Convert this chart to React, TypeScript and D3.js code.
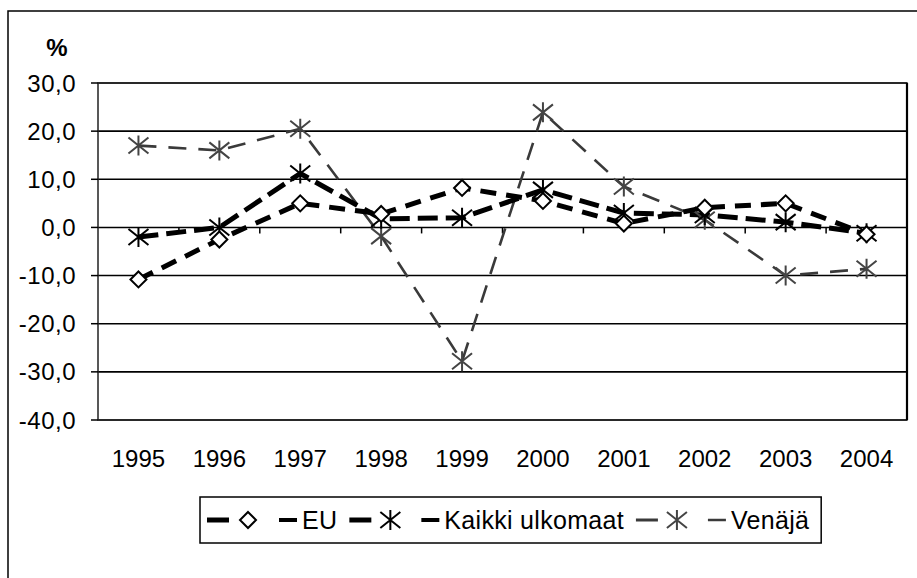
import React, { useEffect, useRef } from "react";
import * as d3 from "d3";

const years = ["1995", "1996", "1997", "1998", "1999", "2000", "2001", "2002", "2003", "2004"];
const euValues = [-10.8, -2.5, 5.0, 2.8, 8.2, 5.5, 0.8, 4.1, 5.0, -1.4];
const kaikkiValues = [-2.0, 0.0, 11.2, 1.8, 2.0, 7.8, 3.0, 2.6, 1.1, -1.2];
const venajaValues = [17.0, 16.0, 20.5, -1.8, -27.8, 23.9, 8.5, 1.6, -10.0, -8.6];
const yTicks = [30, 20, 10, 0, -10, -20, -30, -40];
const seriesNames = ["EU", "Kaikki ulkomaat", "Venäjä"];

const W = 917;
const H = 578;
const FONT = "'Liberation Sans', Arial, sans-serif";

type Style = { color: string; width: number; dash: string; marker: "diamond" | "star"; mColor: string };
const styles: Style[] = [
  { color: "#000", width: 5, dash: "16 10", marker: "diamond", mColor: "#000" },
  { color: "#000", width: 5, dash: "20 8", marker: "star", mColor: "#000" },
  { color: "#3a3a3a", width: 2.6, dash: "18 12", marker: "star", mColor: "#444" },
];

function drawMarker(g: any, kind: string, cx: number, cy: number, color: string) {
  if (kind === "diamond") {
    const r = 8;
    g.append("path")
      .attr("d", `M${cx},${cy - r}L${cx + r},${cy}L${cx},${cy + r}L${cx - r},${cy}Z`)
      .attr("fill", "#fff")
      .attr("stroke", color)
      .attr("stroke-width", 2);
  } else {
    const r = 10;
    g.append("path")
      .attr(
        "d",
        `M${cx - r},${cy - r * 0.8}L${cx + r},${cy + r * 0.8}M${cx - r},${cy + r * 0.8}L${cx + r},${cy - r * 0.8}M${cx},${cy - r}L${cx},${cy + r}`
      )
      .attr("fill", "none")
      .attr("stroke", color)
      .attr("stroke-width", 2);
  }
}

export default function App() {
  const ref = useRef<SVGSVGElement>(null);

  useEffect(() => {
    const svg = d3.select(ref.current);
    svg.selectAll("*").remove();

    const left = 98, right = 907, top = 83, bottom = 420;
    const x = d3.scaleBand().domain(years).range([left, right]);
    const y = d3.scaleLinear().domain([-40, 30]).range([bottom, top]);

    // outer frame
    svg.append("rect").attr("x", 8).attr("y", 11).attr("width", 920).attr("height", 600)
      .attr("fill", "#fff").attr("stroke", "#000").attr("stroke-width", 1.5);

    // gridlines
    svg.append("g").selectAll("line").data(yTicks).join("line")
      .attr("x1", left).attr("x2", right)
      .attr("y1", (d) => y(d)).attr("y2", (d) => y(d))
      .attr("stroke", "#000").attr("stroke-width", 1.6);

    // plot border
    svg.append("rect").attr("x", left).attr("y", top).attr("width", right - left).attr("height", bottom - top)
      .attr("fill", "none").attr("stroke", "#222").attr("stroke-width", 1.5);
    svg.append("line").attr("x1", right).attr("x2", right).attr("y1", top).attr("y2", bottom)
      .attr("stroke", "#000").attr("stroke-width", 2.2);

    // y ticks and labels
    svg.append("g").selectAll("line").data(yTicks).join("line")
      .attr("x1", left - 7).attr("x2", left).attr("y1", (d) => y(d)).attr("y2", (d) => y(d))
      .attr("stroke", "#000").attr("stroke-width", 1.5);
    svg.append("g").selectAll("text").data(yTicks).join("text")
      .attr("x", 76).attr("y", (d) => y(d)).attr("dy", "0.36em")
      .attr("text-anchor", "end").attr("font-family", FONT).attr("font-size", 24)
      .attr("letter-spacing", 0.5)
      .text((d) => d3.format(".1f")(d).replace(".", ",").replace("−", "-"));
    svg.append("text").attr("x", 57).attr("y", 56).attr("text-anchor", "middle")
      .attr("font-family", FONT).attr("font-size", 24).attr("font-weight", "bold").text("%");

    // x ticks at zero line
    const bounds = years.slice(1).map((yr) => x(yr) as number);
    svg.append("g").selectAll("line").data(bounds).join("line")
      .attr("x1", (d) => d).attr("x2", (d) => d).attr("y1", y(0)).attr("y2", y(0) + 6)
      .attr("stroke", "#000").attr("stroke-width", 1.5);
    svg.append("g").selectAll("text").data(years).join("text")
      .attr("x", (d) => (x(d) as number) + x.bandwidth() / 2).attr("y", 467)
      .attr("text-anchor", "middle").attr("font-family", FONT).attr("font-size", 24)
      .text((d) => d);

    // series
    const all = [euValues, kaikkiValues, venajaValues];
    const line = d3.line<number>()
      .x((_, i) => (x(years[i]) as number) + x.bandwidth() / 2)
      .y((d) => y(d));
    const order = [2, 1, 0];
    order.forEach((si) => {
      const st = styles[si];
      svg.append("path").datum(all[si]).attr("d", line).attr("fill", "none")
        .attr("stroke", st.color).attr("stroke-width", st.width).attr("stroke-dasharray", st.dash)
        .attr("stroke-linejoin", "round");
    });
    order.forEach((si) => {
      const st = styles[si];
      const g = svg.append("g");
      all[si].forEach((v, i) => {
        drawMarker(g, st.marker, (x(years[i]) as number) + x.bandwidth() / 2, y(v), st.mColor);
      });
    });

    // legend
    const lg = svg.append("g");
    const box = lg.append("rect").attr("x", 200).attr("y", 497).attr("height", 46)
      .attr("fill", "#fff").attr("stroke", "#000").attr("stroke-width", 1.5);
    const ly = 520;
    let cur = 207;
    seriesNames.forEach((name, si) => {
      const st = styles[si];
      const sw1 = st.width === 5 ? 5 : 3;
      const sw2 = st.width === 5 ? 4 : 2.5;
      lg.append("line").attr("x1", cur).attr("x2", cur + 22).attr("y1", ly).attr("y2", ly)
        .attr("stroke", st.color).attr("stroke-width", sw1);
      drawMarker(lg, st.marker, cur + 41, ly, st.mColor);
      lg.append("line").attr("x1", cur + 72).attr("x2", cur + 90).attr("y1", ly).attr("y2", ly)
        .attr("stroke", st.color).attr("stroke-width", sw2);
      const t = lg.append("text").attr("x", cur + 95).attr("y", ly).attr("dy", "0.36em")
        .attr("font-family", FONT).attr("font-size", 25).attr("letter-spacing", 0.3).text(name);
      const w = (t.node() as SVGTextElement).getComputedTextLength();
      cur = cur + 95 + w + 12;
    });
    box.attr("width", cur - 200);
  }, []);

  return (
    <svg
      ref={ref}
      width={W}
      height={H}
      style={{ position: "absolute", left: 0, top: 0, background: "#fff" }}
    />
  );
}
